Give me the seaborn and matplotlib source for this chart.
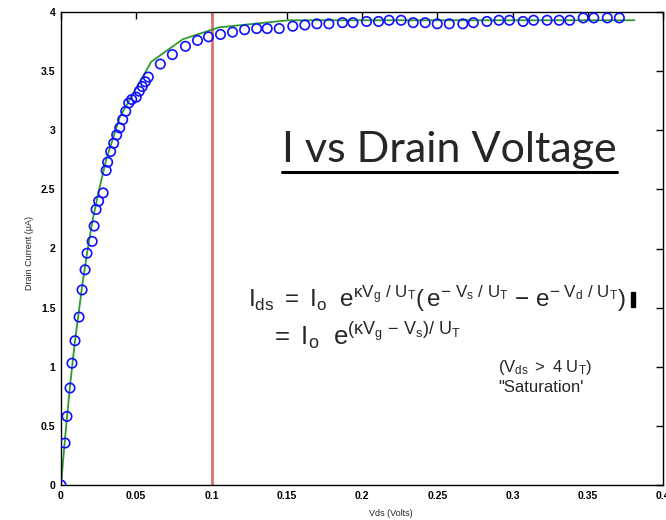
import matplotlib
matplotlib.use("Agg")
import matplotlib.pyplot as plt
import seaborn as sns
import pandas as pd
from matplotlib.lines import Line2D
from matplotlib.patches import Rectangle

# ---- data ----
fit_vds = [0.0, 0.003, 0.006, 0.0093, 0.012, 0.014, 0.0173, 0.021, 0.025, 0.030,
           0.037, 0.039, 0.060, 0.081, 0.105, 0.151, 0.381]
fit_ids = [0.0, 0.44, 0.84, 1.22, 1.48, 1.68, 1.96, 2.24, 2.48, 2.75,
           3.03, 3.11, 3.58, 3.77, 3.87, 3.93, 3.93]

meas_vds = [0.0, 0.0027, 0.004, 0.006, 0.0073, 0.0093, 0.012, 0.014, 0.016, 0.0173,
            0.0207, 0.022, 0.0233, 0.025, 0.028, 0.030, 0.031, 0.033, 0.035, 0.037,
            0.039, 0.041, 0.043, 0.045, 0.047, 0.050, 0.052, 0.054, 0.056, 0.058,
            0.066, 0.074, 0.0827, 0.0907, 0.098, 0.106, 0.114, 0.122, 0.130, 0.137,
            0.145, 0.154, 0.162, 0.170, 0.178, 0.187, 0.194, 0.203, 0.211, 0.218,
            0.226, 0.234, 0.242, 0.250, 0.258, 0.267, 0.274, 0.283, 0.291, 0.298,
            0.307, 0.314, 0.323, 0.331, 0.338, 0.347, 0.354, 0.363, 0.371]
meas_ids = [0.0, 0.355, 0.58, 0.82, 1.03, 1.22, 1.42, 1.65, 1.82, 1.96,
            2.06, 2.19, 2.33, 2.40, 2.47, 2.66, 2.73, 2.82, 2.89, 2.96,
            3.02, 3.09, 3.16, 3.23, 3.26, 3.28, 3.33, 3.37, 3.41, 3.45,
            3.56, 3.64, 3.71, 3.76, 3.79, 3.81, 3.83, 3.85, 3.86, 3.86,
            3.86, 3.88, 3.89, 3.90, 3.90, 3.91, 3.91, 3.92, 3.92, 3.93,
            3.93, 3.91, 3.91, 3.90, 3.90, 3.90, 3.91, 3.92, 3.93, 3.93,
            3.92, 3.93, 3.93, 3.93, 3.93, 3.95, 3.95, 3.95, 3.95]

x_ticks = [0, 0.05, 0.1, 0.15, 0.2, 0.25, 0.3, 0.35, 0.4]
x_tick_labels = ["0", "0.05", "0.1", "0.15", "0.2", "0.25", "0.3", "0.35", "0.4"]
y_ticks = [0, 0.5, 1, 1.5, 2, 2.5, 3, 3.5, 4]
y_tick_labels = ["0", "0.5", "1", "1.5", "2", "2.5", "3", "3.5", "4"]
sat_vds = 0.1

title_text = "I vs Drain Voltage"
x_label = "Vds (Volts)"
y_label = "Drain Current (\u00b5A)"

# ---- style ----
sns.set_style("white")
plt.rcParams["font.family"] = ["Liberation Sans", "DejaVu Sans"]
plt.rcParams["mathtext.fontset"] = "custom"
plt.rcParams["mathtext.rm"] = "Liberation Sans"
plt.rcParams["mathtext.it"] = "Liberation Sans:italic"
plt.rcParams["mathtext.bf"] = "Liberation Sans:bold"

fig = plt.figure(figsize=(6.66, 5.2), dpi=100)
ax = fig.add_axes([61 / 666, 35 / 520, 602 / 666, 473 / 520])

fit_df = pd.DataFrame({"vds": fit_vds, "ids": fit_ids})
meas_df = pd.DataFrame({"vds": meas_vds, "ids": meas_ids})

sns.lineplot(data=fit_df, x="vds", y="ids", ax=ax, color="#2e9a2e", lw=1.3,
             sort=False, estimator=None, zorder=2)
sns.scatterplot(data=meas_df, x="vds", y="ids", ax=ax, marker="o", s=46,
                facecolor="none", edgecolor="#1010ff", linewidth=1.2, zorder=3)
ax.axvline(sat_vds, color="#d9706e", lw=2.0, zorder=1)

ax.set_xlim(0, 0.4)
ax.set_ylim(0, 4)
ax.set_xticks(x_ticks)
ax.set_xticklabels(x_tick_labels)
ax.set_yticks(y_ticks)
ax.set_yticklabels(y_tick_labels)
ax.tick_params(direction="in", length=5, width=1, top=True, right=True,
               labelsize=7.5, colors="black", pad=4)
for lab in ax.get_xticklabels() + ax.get_yticklabels():
    lab.set_fontweight("bold")
for sp in ax.spines.values():
    sp.set_color("black")
    sp.set_linewidth(1.0)

ax.set_xlabel(x_label, fontsize=6.5)
ax.xaxis.set_label_coords(0.548, -0.05)
ax.set_ylabel(y_label, fontsize=6.5)
ax.yaxis.set_label_coords(-0.045, 0.49)

# ---- title with underline ----
fig.text(282 / 666, (520 - 162) / 520, title_text, fontsize=31,
         family=["Lato", "DejaVu Sans"], va="baseline", ha="left")
fig.add_artist(Line2D([282 / 666, 617 / 666], [(520 - 172) / 520] * 2,
                      transform=fig.transFigure, color="black", lw=2.2))

# ---- equations ----
eq1 = (r"$\mathregular{I_{ds}\ {=}\ I_o\ \ e^{\kappa V_g\ /\ U_T}(\,e^{{-}\ V_s\ /\ U_T}"
       r"\ {-}\ e^{{-}\ V_d\ /\ U_T})}$")
eq2 = r"$\mathregular{{=}\ I_o\ \ e^{(\kappa V_g\ {-}\ V_s)/\ U_T}}$"
eq3 = r"$\mathregular{(V_{ds}\ {>}\ 4\ U_T)}$"
fig.text(248 / 666, (520 - 307) / 520, eq1, fontsize=17.5, va="baseline", ha="left")
fig.text(270 / 666, (520 - 345) / 520, eq2, fontsize=18.5, va="baseline", ha="left")
fig.text(498 / 666, (520 - 372) / 520, eq3, fontsize=12, va="baseline", ha="left")
fig.text(498 / 666, (520 - 392) / 520, "\"Saturation'", fontsize=12,
         va="baseline", ha="left")
fig.add_artist(Rectangle((631 / 666, (520 - 307) / 520), 4 / 666, 15 / 520,
                         transform=fig.transFigure, color="black"))

fig.savefig("out.png", dpi=100)
